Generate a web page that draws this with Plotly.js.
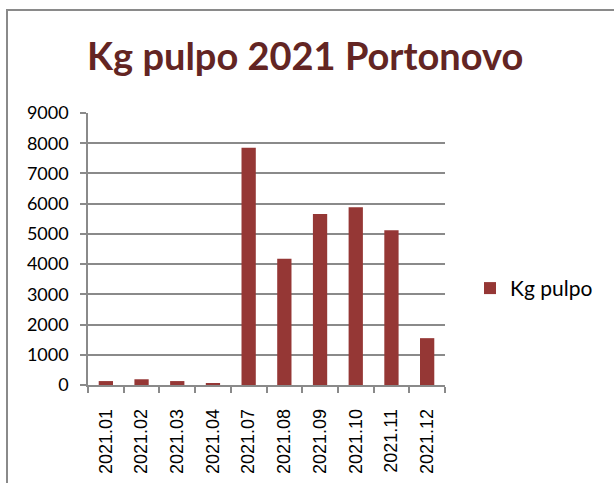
<!DOCTYPE html>
<html>
<head>
<meta charset="utf-8">
<script src="https://cdn.plot.ly/plotly-3.0.1.min.js"></script>
<style>
  body { margin: 0; background: #fff; }
  #chart { position: absolute; left: 0; top: 0; width: 614px; height: 483px; }
  #frame {
    position: absolute; left: 6px; top: 9px; width: 620px; height: 490px;
    border-left: 2px solid #8a8a8a; border-top: 2px solid #8a8a8a;
    pointer-events: none;
  }
</style>
</head>
<body>
<div id="chart"></div>
<div id="frame"></div>
<script>
var months = ['2021.01', '2021.02', '2021.03', '2021.04', '2021.07',
              '2021.08', '2021.09', '2021.10', '2021.11', '2021.12'];
var kgPulpo = [130, 190, 130, 50, 7850, 4180, 5660, 5880, 5120, 1550];
var yTicks = [0, 1000, 2000, 3000, 4000, 5000, 6000, 7000, 8000, 9000];

var barColor = '#953735';
var gridColor = '#8a8a8a';

var data = [
    {
        x: months,
        y: kgPulpo,
        name: 'Kg pulpo',
        type: 'bar',
        marker: { color: barColor }
    }
];

var layout = {
    width: 614,
    height: 483,
    margin: { l: 88, r: 169, t: 113, b: 98 },
    paper_bgcolor: '#fff',
    plot_bgcolor: '#fff',
    bargap: 0.6,
    title: {
        text: '<b>Kg pulpo 2021 Portonovo</b>',
        font: { family: 'Lato, sans-serif', size: 38, color: '#632523' },
        xref: 'container', x: 0.497, xanchor: 'center',
        yref: 'container', y: 0.882, yanchor: 'middle'
    },
    xaxis: {
        type: 'category',
        tickangle: -90,
        tickson: 'boundaries',
        ticks: 'outside',
        ticklen: 6,
        tickcolor: gridColor,
        tickwidth: 1.5,
        showline: true,
        linecolor: gridColor,
        linewidth: 1.5,
        showgrid: false,
        ticklabelstandoff: 15,
        tickfont: { family: 'Liberation Sans, Arial, sans-serif', size: 18, color: '#000' }
    },
    yaxis: {
        range: [0, 9000],
        tickvals: yTicks,
        ticks: 'outside',
        ticklen: 6,
        tickcolor: gridColor,
        tickwidth: 1.5,
        showline: true,
        linecolor: gridColor,
        linewidth: 1.5,
        gridcolor: gridColor,
        gridwidth: 1.5,
        zeroline: false,
        ticklabelstandoff: 8,
        tickfont: { family: 'Lato, sans-serif', size: 18, color: '#000' }
    },
    showlegend: true,
    legend: {
        x: 1.07, xanchor: 'left',
        y: 0.355, yanchor: 'middle',
        font: { family: 'Lato, sans-serif', size: 21, color: '#000' }
    }
};

Plotly.newPlot('chart', data, layout, {displayModeBar: false});
</script>
</body>
</html>
